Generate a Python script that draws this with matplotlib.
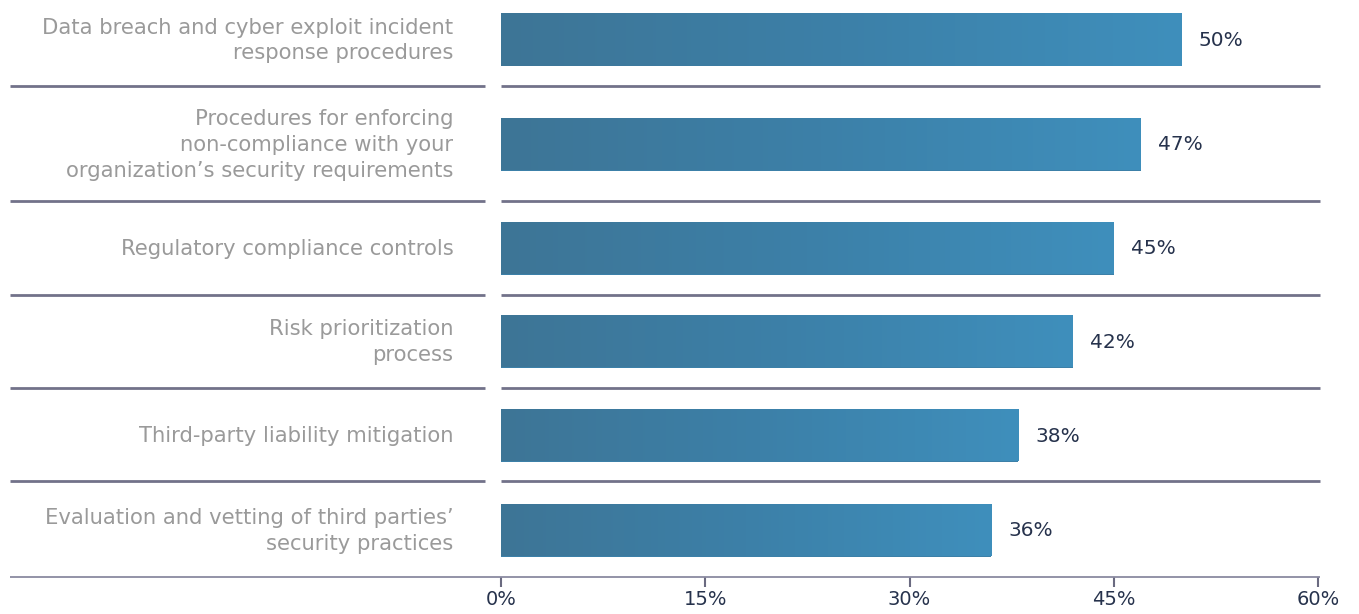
import numpy as np
import matplotlib
matplotlib.use("Agg")
import matplotlib.pyplot as plt
from matplotlib.colors import LinearSegmentedColormap
from matplotlib.transforms import blended_transform_factory

# Survey results: share of respondents per practice area
categories = [
    "Data breach and cyber exploit incident\nresponse procedures",
    "Procedures for enforcing\nnon-compliance with your\norganization\u2019s security requirements",
    "Regulatory compliance controls",
    "Risk prioritization\nprocess",
    "Third-party liability mitigation",
    "Evaluation and vetting of third parties\u2019\nsecurity practices",
]
values = [50, 47, 45, 42, 38, 36]
tick_values = [0, 15, 30, 45, 60]
tick_labels = ["0%", "15%", "30%", "45%", "60%"]

# Layout (pixel-based vertical coordinates)
row_centers = [39.5, 144, 248, 341, 435, 530]
separators = [86, 201, 295, 388, 481]
bar_h = 53
W, H = 1359, 614

plt.rcParams["font.family"] = ["DejaVu Sans"]

fig = plt.figure(figsize=(W / 100, H / 100), dpi=100)
ax = fig.add_axes([501 / W, (H - 577) / H, 817 / W, 577 / H])
ax.set_xlim(0, 60)
ax.set_ylim(577, 0)

cmap = LinearSegmentedColormap.from_list("bar", ["#3e7596", "#3c80a8", "#3f8fbc"])
grad = np.linspace(0, 1, 256).reshape(1, -1)

bars = ax.barh(row_centers, values, height=bar_h, color="#3c80a8", zorder=2)
for rect, c, v in zip(bars, row_centers, values):
    im = ax.imshow(grad, extent=[0, v, c + bar_h / 2, c - bar_h / 2],
                   aspect="auto", cmap=cmap, zorder=3, interpolation="bicubic")
    im.set_clip_path(rect)
    ax.text(v + 1.25, c + 1, f"{v}%", va="center", ha="left",
            fontsize=14.5, color="#26324c", zorder=4)
ax.set_xlim(0, 60)
ax.set_ylim(577, 0)

trans = blended_transform_factory(ax.transAxes, ax.transData)
for label, c in zip(categories, row_centers):
    ax.text(-0.058, c + 1, label, transform=trans, ha="right", va="center",
            multialignment="right", fontsize=15.2, color="#9a9a9a",
            linespacing=1.36)

# Row separators: left part under labels, right part across plot area
x_left0 = (10 - 501) / 817
x_left1 = (485 - 501) / 817
x_right1 = (1320 - 501) / 817
for s in separators:
    ax.plot([x_left0, x_left1], [s, s], transform=trans, color="#72728a",
            lw=2, clip_on=False, solid_capstyle="butt")
    ax.plot([0, x_right1], [s, s], transform=trans, color="#72728a",
            lw=2, clip_on=False, solid_capstyle="butt")

# Baseline
ax.plot([x_left0, x_right1], [577, 577], transform=trans, color="#8a8aa0",
        lw=1.3, clip_on=False, solid_capstyle="butt")

for sp in ax.spines.values():
    sp.set_visible(False)
ax.set_yticks([])
ax.set_xticks(tick_values)
ax.set_xticklabels(tick_labels)
ax.tick_params(axis="x", direction="out", length=7.5, width=1.5,
               color="#6a6a80", labelcolor="#26324c", labelsize=14, pad=2)

fig.savefig("out.png", dpi=100)
